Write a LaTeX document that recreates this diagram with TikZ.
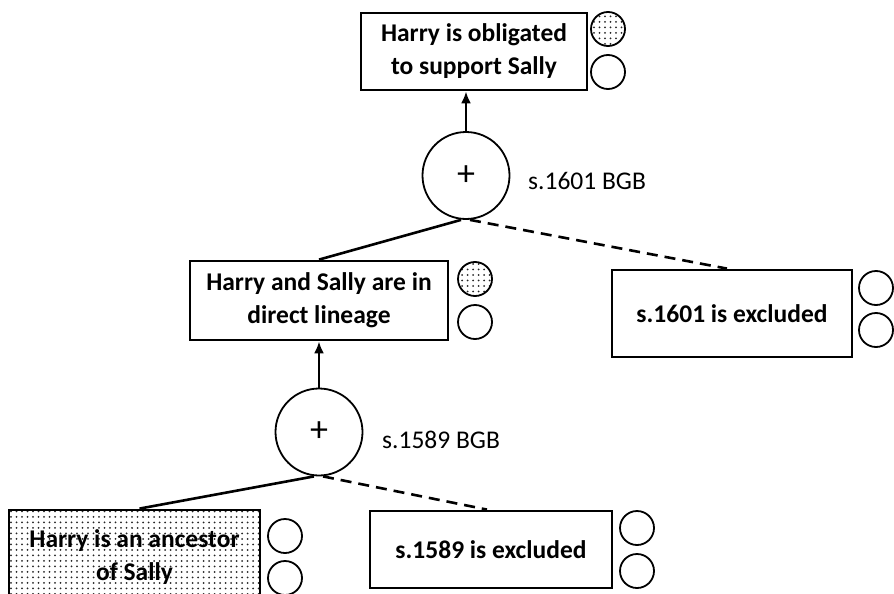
\documentclass[tikz,border=0pt]{standalone}
\usepackage{fontspec}
\setmainfont{Carlito}
\usetikzlibrary{arrows.meta,patterns.meta}
\tikzset{
  claim/.style={draw,line width=2.8pt,fill=white,align=center,inner sep=0pt,
    font=\fontsize{25.5}{33}\selectfont\bfseries},
  argnode/.style={circle,draw,line width=1.8pt,fill=white,inner sep=0pt,
    minimum size=87pt,font=\fontsize{36}{36}\selectfont},
  lbl/.style={circle,draw,line width=1.8pt,inner sep=0pt,minimum size=34pt},
  rulelbl/.style={anchor=west,inner sep=0pt,font=\fontsize{25.5}{30}\selectfont},
  dotfill/.style={pattern={Dots[distance=5.5pt,radius=1pt]},pattern color=black!85},
  pro/.style={line width=2.6pt},
  con/.style={line width=2.6pt,dash pattern=on 11pt off 7pt},
  support/.style={line width=2.6pt,-{Latex[length=12pt,width=10pt]}}
}
\begin{document}
\begin{tikzpicture}[x=1pt,y=-1pt]
  \useasboundingbox (0,0) rectangle (894,594);
  \clip (0,0) rectangle (894,594);
  % conclusion
  \node[claim,minimum width=226pt,minimum height=77pt] (oblig) at (474,51.5)
    {Harry is obligated\\to support Sally};
  \node[lbl,dotfill] (oblig-in) at (608,29) {};
  \node[lbl] (oblig-out) at (608,72) {};
  % s.1601 BGB
  \node[argnode] (a1601) at (466,175.5) {+};
  \node[rulelbl] (r1601) at (528,181) {s.1601 BGB};
  \node[claim,minimum width=258pt,minimum height=79pt] (lineage) at (319,300.5)
    {Harry and Sally are in\\direct lineage};
  \node[lbl,dotfill] (lineage-in) at (475,279) {};
  \node[lbl] (lineage-out) at (475,322) {};
  \node[claim,minimum width=240pt,minimum height=87pt] (ex1601) at (732,313.5)
    {s.1601 is excluded};
  \node[lbl] (ex1601-in) at (876,288) {};
  \node[lbl] (ex1601-out) at (876,330) {};
  % s.1589 BGB
  \node[argnode] (a1589) at (319,432) {+};
  \node[rulelbl] (r1589) at (382,440) {s.1589 BGB};
  \node[claim,dotfill,minimum width=251pt,minimum height=94pt] (ancestor) at (134.5,557)
    {Harry is an ancestor\\of Sally};
  \node[lbl] (ancestor-in) at (285,536) {};
  \node[lbl] (ancestor-out) at (285,578) {};
  \node[claim,minimum width=242pt,minimum height=77pt] (ex1589) at (491,549.5)
    {s.1589 is excluded};
  \node[lbl] (ex1589-in) at (637,528) {};
  \node[lbl] (ex1589-out) at (637,571) {};
  % connectors
  \draw[support] (a1601.north) -- (a1601.north |- oblig.south);
  \draw[pro] ([xshift=-5pt]a1601.south) -- (lineage.north);
  \draw[con] ([xshift=4pt]a1601.south) -- ([xshift=-5pt]ex1601.north);
  \draw[support] (a1589.north) -- (a1589.north |- lineage.south);
  \draw[pro] ([xshift=-5pt]a1589.south) -- ([xshift=5pt]ancestor.north);
  \draw[con] ([xshift=4pt]a1589.south) -- ([xshift=-4pt]ex1589.north);
\end{tikzpicture}
\end{document}
